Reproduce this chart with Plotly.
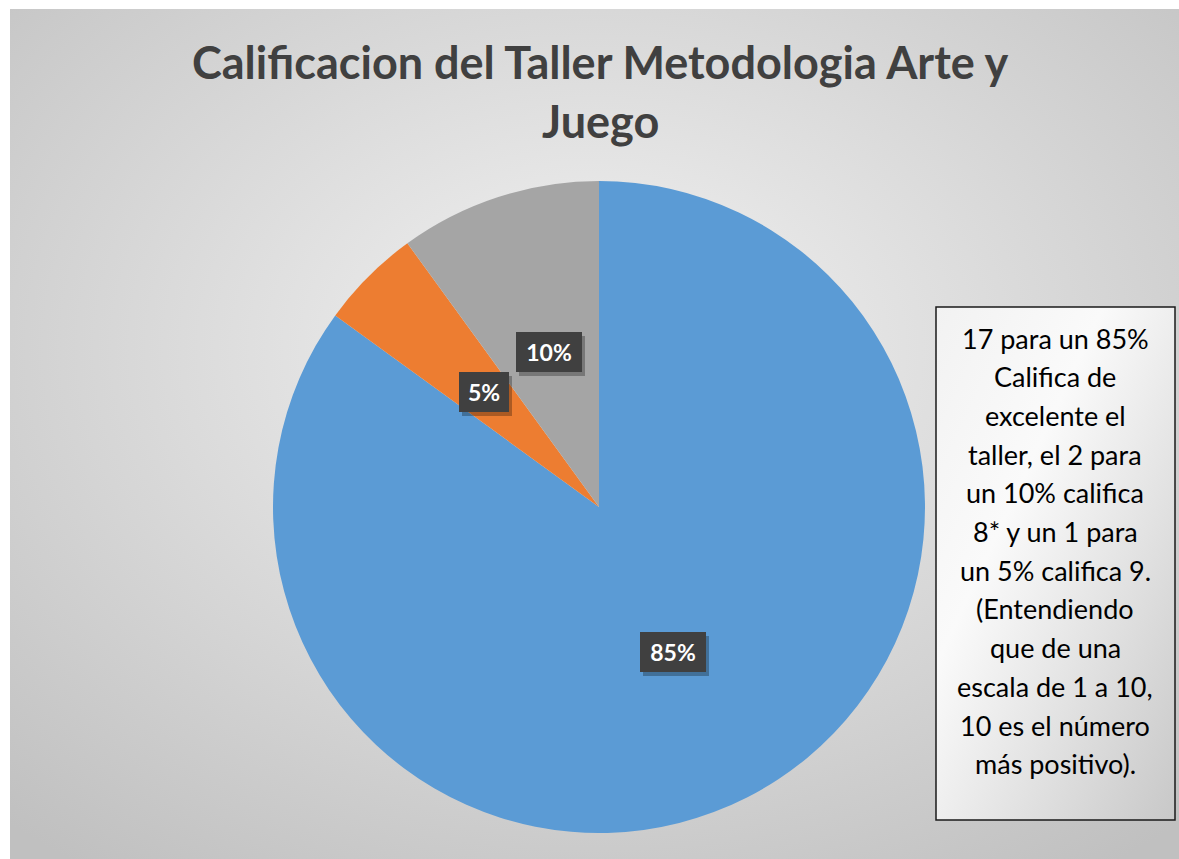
import base64
import math
import plotly.graph_objects as go

# datos del grafico
categorias = ["Califica 10 (excelente)", "Califica 9", "Califica 8"]
valores = [17, 1, 2]
colores = ["#5B9BD5", "#ED7D31", "#A5A5A5"]
titulo = ["Calificacion del Taller Metodologia Arte y", "Juego"]
nota = [
    "17 para un 85%",
    "Califica de",
    "excelente el",
    "taller, el 2 para",
    "un 10% califica",
    "8* y un 1 para",
    "un 5% califica 9.",
    "(Entendiendo",
    "que de una",
    "escala de 1 a 10,",
    "10 es el número",
    "más positivo).",
]

W, H = 1179, 859
CX, CY, R = 599, 507, 326  # centro y radio de la torta en pixeles


def px(x):
    return x / W


def py(y):
    return 1 - y / H


def svg_uri(svg):
    return "data:image/svg+xml;base64," + base64.b64encode(svg.encode()).decode()


# fondo con degradado radial
fondo = svg_uri(
    '<svg xmlns="http://www.w3.org/2000/svg" width="1169" height="850" preserveAspectRatio="none">'
    '<defs><radialGradient id="g" cx="50%" cy="40%" r="75%">'
    '<stop offset="0" stop-color="#f3f3f3"/><stop offset="1" stop-color="#c0c0c0"/>'
    '</radialGradient></defs><rect width="1169" height="850" fill="url(#g)"/></svg>'
)
# fondo del cuadro de texto
caja = svg_uri(
    '<svg xmlns="http://www.w3.org/2000/svg" width="239" height="513" preserveAspectRatio="none">'
    '<defs><linearGradient id="g" x1="0" y1="0" x2="1" y2="1">'
    '<stop offset="0" stop-color="#f2f2f2"/><stop offset="0.35" stop-color="#fafafa"/>'
    '<stop offset="1" stop-color="#c8c8c8"/>'
    '</linearGradient></defs><rect width="239" height="513" fill="url(#g)"/></svg>'
)

fig = go.Figure()
fig.add_trace(go.Pie(
    labels=categorias,
    values=valores,
    marker=dict(colors=colores, line=dict(width=0)),
    sort=False,
    direction="clockwise",
    rotation=0,
    textinfo="none",
    hoverinfo="label+percent",
    domain=dict(x=[px(CX - R), px(CX + R)], y=[py(CY + R), py(CY - R)]),
    showlegend=False,
))

anots = []
# etiquetas de porcentaje en la mitad de cada sector
total = sum(valores)
acum = 0
for v in valores:
    ang = 2 * math.pi * (acum + v / 2) / total
    acum += v
    x = CX + 0.5 * R * math.sin(ang)
    y = CY - 0.5 * R * math.cos(ang)
    texto = f"{round(100 * v / total)}%"
    ancho = 16 * len(texto) + 4
    # sombra (caja vacia desplazada)
    anots.append(dict(x=px(x), y=py(y), xref="paper", yref="paper", text=" ",
                      showarrow=False, xshift=3, yshift=-4, bgcolor="rgba(0,0,0,0.28)",
                      xanchor="center", yanchor="middle", width=ancho, height=26,
                      borderpad=7, borderwidth=0, font=dict(size=2)))
    anots.append(dict(x=px(x), y=py(y), xref="paper", yref="paper", text=f"<b>{texto}</b>",
                      showarrow=False, bgcolor="#404040", borderpad=7, borderwidth=0,
                      width=ancho, height=26, xanchor="center", yanchor="middle",
                      font=dict(family="Lato", size=23, color="white")))

# titulo
for i, linea in enumerate(titulo):
    anots.append(dict(x=px(600), y=py(62 + 59 * i), xref="paper", yref="paper",
                      text=f"<b>{linea}</b>", showarrow=False,
                      xanchor="center", yanchor="middle",
                      font=dict(family="Lato", size=45, color="#404040")))

# texto del cuadro
for i, linea in enumerate(nota):
    anots.append(dict(x=px(1055), y=py(338 + 38.7 * i), xref="paper", yref="paper",
                      text=linea, showarrow=False,
                      xanchor="center", yanchor="middle",
                      font=dict(family="Lato", size=27, color="#000000")))

fig.update_layout(
    width=W,
    height=H,
    margin=dict(l=0, r=0, t=0, b=0),
    paper_bgcolor="white",
    plot_bgcolor="white",
    images=[
        dict(source=fondo, xref="paper", yref="paper", x=px(10), y=py(9),
             sizex=px(1169), sizey=850 / H, sizing="stretch", layer="below"),
        dict(source=caja, xref="paper", yref="paper", x=px(936), y=py(307),
             sizex=px(239), sizey=513 / H, sizing="stretch", layer="below"),
    ],
    shapes=[
        dict(type="rect", xref="paper", yref="paper", x0=px(936), x1=px(1175),
             y0=py(820), y1=py(307), line=dict(color="#1a1a1a", width=1.5)),
    ],
    annotations=anots,
)

# sin margen en la pagina para que el grafico ocupe la ventana exacta
fig.write_html("out.html", config={"displayModeBar": False},
               post_script="document.body.style.margin='0';")
